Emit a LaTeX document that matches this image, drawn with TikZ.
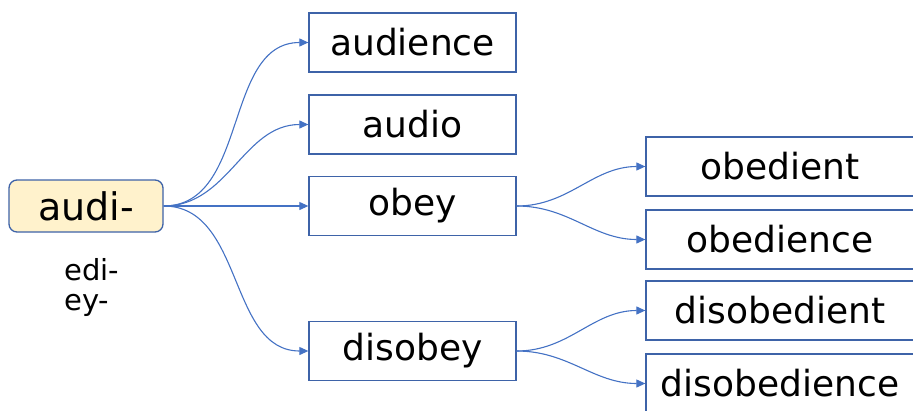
\documentclass[tikz,border=0pt]{standalone}
\usepackage{fontspec}
\setmainfont{DejaVu Sans}
\usetikzlibrary{arrows.meta}
\definecolor{boxblue}{HTML}{3E63A8}
\definecolor{linkblue}{HTML}{4472C4}
\definecolor{rootfill}{HTML}{FFF2CC}
\begin{document}
\begin{tikzpicture}[x=1pt,y=-1pt,
  wordbox/.style={draw=boxblue,line width=1.3pt,fill=white,minimum width=207pt,minimum height=59pt,inner sep=0pt,font=\fontsize{36}{40}\selectfont},
  widebox/.style={wordbox,minimum width=268pt},
  rootbox/.style={draw=boxblue,line width=1.3pt,fill=rootfill,rounded corners=8pt,minimum width=154pt,minimum height=52pt,inner sep=0pt,font=\fontsize{38}{42}\selectfont},
  varlabel/.style={anchor=west,inner sep=0pt,font=\fontsize{29}{33}\selectfont},
  link/.style={draw=linkblue,line width=1.1pt,-{Triangle[length=9pt,width=8pt]}}]
\useasboundingbox (0,0) rectangle (913,410);
\node[rootbox] (root) at (86,206) {audi-};
\node[varlabel] (edi) at (64,270) {edi-};
\node[varlabel] (ey) at (64,305) {ey-};
\node[wordbox] (audience) at (412.5,42.5) {audience};
\node[wordbox] (audio) at (412.5,124.5) {audio};
\node[wordbox] (obey) at (412.5,206) {obey};
\node[wordbox] (disobey) at (412.5,351) {disobey};
\node[widebox] (obedient) at (780,166.5) {obedient};
\node[widebox] (obedience) at (780,239.5) {obedience};
\node[widebox] (disobedient) at (780,310.5) {disobedient};
\node[widebox] (disobedience) at (780,383.5) {disobedience};
\foreach \t in {audience,audio,obey,disobey}
  \draw[link] (root.east) to[out=0,in=180] (\t.west);
\foreach \t in {obedient,obedience}
  \draw[link] (obey.east) to[out=0,in=180] (\t.west);
\foreach \t in {disobedient,disobedience}
  \draw[link] (disobey.east) to[out=0,in=180] (\t.west);
\end{tikzpicture}
\end{document}
